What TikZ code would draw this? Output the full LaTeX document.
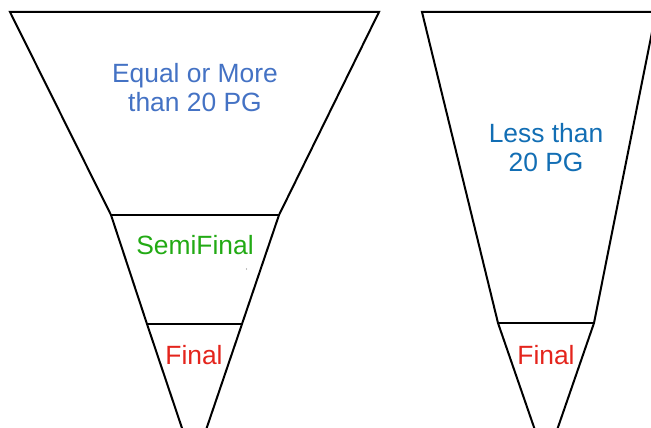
\documentclass[tikz,border=0pt]{standalone}
\usepackage{fontspec}
\setmainfont{Liberation Sans}
\definecolor{ltblue}{RGB}{68,114,196}
\definecolor{dkblue}{RGB}{18,110,180}
\definecolor{sgreen}{RGB}{34,170,20}
\definecolor{fred}{RGB}{228,36,28}
\begin{document}
\begin{tikzpicture}[x=1pt,y=-1pt,
  funnel/.style={draw=black,line width=2pt},
  lbl/.style={anchor=base,inner sep=0pt,font=\fontsize{26.4}{29}\selectfont}]
\useasboundingbox (0,0) rectangle (651,428);
\clip (0,0) rectangle (651,428);
% left funnel
\draw[funnel] (186,440) -- (147,324) -- (111,215) -- (10,12) -- (379,12) -- (279,215) -- (242,324) -- (202.6,440);
\draw[funnel] (111,215) -- (279,215);
\draw[funnel] (147,324) -- (242,324);
% right funnel
\draw[funnel] (538.4,440) -- (498,323) -- (422,12) -- (660,12);
\draw[funnel] (656,12) -- (594,323) -- (553.6,440);
\draw[funnel] (498,323) -- (594,323);
% labels
\node[lbl,text=ltblue] (eq1) at (195,82.5) {Equal or More};
\node[lbl,text=ltblue] (eq2) at (195,111.5) {than 20 PG};
\node[lbl,text=sgreen] (semi) at (195,254.5) {SemiFinal};
\node[lbl,text=fred] (fin1) at (194,364.5) {Final};
\node[lbl,text=dkblue] (ls1) at (546,142.5) {Less than};
\node[lbl,text=dkblue] (ls2) at (546,171.5) {20 PG};
\node[lbl,text=fred] (fin2) at (546,364.5) {Final};
\fill[gray] (246.5,269) circle (0.7pt);
\end{tikzpicture}
\end{document}
